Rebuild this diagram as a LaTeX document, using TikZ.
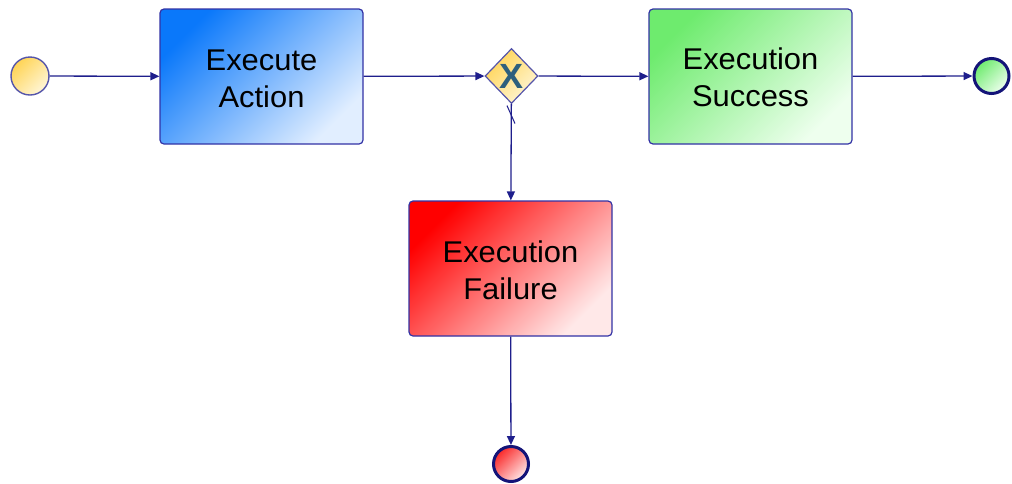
\documentclass[tikz,border=0pt]{standalone}
\usepackage{fontspec}
\setmainfont[FakeStretch=1.03]{Liberation Sans}
\usetikzlibrary{shapes.geometric,arrows.meta}

\definecolor{flowline}{RGB}{30,30,140}
\definecolor{boxedge}{RGB}{50,50,165}
\definecolor{blueA}{RGB}{10,120,250}
\definecolor{blueB}{RGB}{225,238,255}
\definecolor{greenA}{RGB}{110,235,110}
\definecolor{greenB}{RGB}{238,255,238}
\definecolor{redA}{RGB}{255,0,0}
\definecolor{redB}{RGB}{255,232,232}
\definecolor{redC}{RGB}{250,40,40}
\definecolor{yellowA}{RGB}{255,212,85}
\definecolor{yellowB}{RGB}{255,246,215}
\definecolor{endedge}{RGB}{20,20,120}
\definecolor{startedge}{RGB}{85,85,170}
\definecolor{xmark}{RGB}{45,95,125}

\tikzset{
  % diagonal gradient: first colour top-left, second colour bottom-right
  diagfill/.style 2 args={top color=#1, bottom color=#2, shading angle=45},
  task/.style={draw=boxedge, line width=1.2pt, rounded corners=4pt,
    minimum width=203pt, minimum height=135pt, inner sep=0pt},
  tasklabel/.style={align=center, inner sep=0pt,
    font=\fontsize{30}{37}\selectfont},
  startev/.style={circle, draw=startedge, line width=1.4pt,
    minimum size=38pt, inner sep=0pt, diagfill={yellowA}{yellowB}},
  endev/.style={circle, draw=endedge, line width=3pt, minimum size=35pt,
    inner sep=0pt},
  gateway/.style={diamond, draw=startedge, line width=1.2pt,
    minimum width=53pt, minimum height=55pt, inner sep=0pt,
    diagfill={yellowA}{yellowB}},
  flow/.style={draw=flowline, line width=1.3pt,
    -{Triangle[length=9pt,width=8pt]}},
}

\begin{document}
\begin{tikzpicture}[x=1pt,y=-1pt]
  \useasboundingbox (0,0) rectangle (1012,483);

  % events, tasks and the exclusive gateway
  \node[startev] (start) at (30,76) {};
  \node[task, diagfill={blueA}{blueB}] (act) at (261.5,76.5) {};
  \node[tasklabel] (actlbl) at ([yshift=-2.5pt]act.center) {Execute\\Action};
  \node[gateway] (gw) at (511.5,76) {};
  \node[font=\fontsize{35}{35}\selectfont\bfseries, text=xmark, inner sep=0pt] (gwx) at (gw.center) {X};
  \node[task, diagfill={greenA}{greenB}] (succ) at (750.5,76.5) {};
  \node[tasklabel] (succlbl) at ([yshift=-1pt]succ.center) {Execution\\Success};
  \node[task, diagfill={redA}{redB}] (fail) at (510.5,268.5) {};
  \node[tasklabel] (faillbl) at ([yshift=-2pt]fail.center) {Execution\\Failure};
  \node[endev, diagfill={greenA}{greenB}] (endok) at (991.5,76) {};
  \node[endev, diagfill={redC}{redB}] (endfail) at (511,464) {};

  % sequence flows
  \draw[flow] (start) -- (act);
  \draw[flow] (act) -- (gw);
  \draw[flow] (gw) -- (succ);
  \draw[flow] (succ) -- (endok);
  \draw[flow] (gw) -- (fail);
  \draw[flow] (fail) -- (endfail);

  % default-flow slash on the gateway's lower outgoing flow
  \draw[draw=flowline, line width=1pt] (gw.south) ++(-4.5,1.5) -- ++(8,18);
\end{tikzpicture}
\end{document}
